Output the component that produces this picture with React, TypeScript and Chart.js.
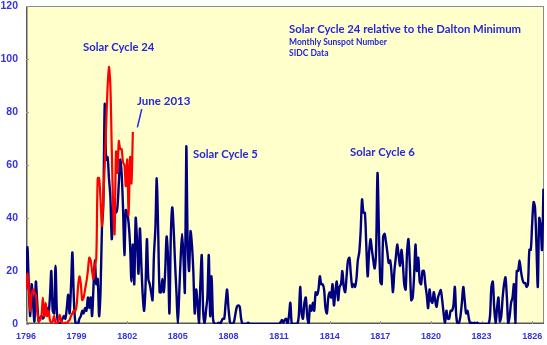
import React, { useEffect, useRef } from 'react';
import { Chart, registerables } from 'chart.js';

Chart.register(...registerables);

const START_YEAR = 1796;
const X_MIN = 1796;
const X_MAX = 1826.7;
const X_TICKS = [1796, 1799, 1802, 1805, 1808, 1811, 1814, 1817, 1820, 1823, 1826];
const Y_TICKS = [0, 20, 40, 60, 80, 100, 120];

// Dalton Minimum monthly sunspot number, Jan 1796 onwards (one row per year)
const DALTON_MONTHLY = [
  13, 29, 14, 3, 15, 8, 1, 16, 8, 1, 2, 3,
  2, 3, 5, 6, 4, 10, 20, 5, 4, 22, 4, 0,
  0, 1, 2, 3, 2, 6, 11, 4, 14, 27, 10, 1,
  0, 0, 2, 3, 5, 4, 6, 5, 10, 6, 10, 3,
  14, 24, 15, 17, 3, 12, 36, 45, 83, 62, 63, 55,
  48, 32, 44, 43, 42, 44, 53, 62, 57, 44, 26, 43,
  42, 38, 30, 16, 30, 15, 40, 31, 19, 36, 23, 11,
  5, 14, 32, 17, 15, 12, 9, 26, 36, 55, 35, 12,
  12, 17, 12, 20, 33, 25, 4, 33, 44, 36, 23, 12,
  0, 12, 25, 34, 25, 12, 67, 30, 20, 35, 30, 20,
  4, 13, 8, 0, 15, 26, 5, 0, 5, 10, 26, 3,
  18, 2, 0, 0, 0, 0.5, 0, 1, 2, 2, 8, 13,
  6, 1, 0, 0, 1, 4, 6.5, 7, 6.5, 2, 0, 0,
  0, 0, 0.5, 0, 0, 0, 0, 0, 0, 0, 0, 0,
  0, 0, 0, 0, 0, 0, 0, 0, 0, 0, 0, 0,
  0, 0.5, 1.5, 0.5, 1.5, 2, 0, 3, 8, 0, 0, 0,
  0, 0, 3, 14, 4, 2, 8, 10, 3, 0, 7, 5,
  8, 5, 12, 11, 13, 18, 15, 15, 13, 6, 4, 10,
  12, 10, 15, 7, 12, 16, 9, 14, 15, 20, 14, 12,
  18, 24, 25, 19, 14, 15, 14, 17, 24, 27, 35, 47,
  42, 42, 30, 18, 27, 32, 28, 24, 21, 28, 57, 35,
  16, 15, 33, 34, 31, 27, 23, 24, 19, 12, 20, 25,
  30, 26, 22, 28, 23, 15, 13, 27, 32, 22, 9, 10,
  18, 30, 20, 25, 16, 15, 20, 20, 15, 11, 6, 13,
  9, 8, 12, 9, 6.5, 10, 11.6, 12.8, 9, 4, 0.5, 5,
  2, 2, 5, 5, 7, 14, 3, 0, 0.5, 3, 8, 14,
  9, 4, 5, 2, 0, 0.5, 0, 0.5, 0, 0.5, 0, 0,
  0, 0, 0, 0, 0, 0, 3, 14, 16, 6, 0, 6,
  10, 1, 3, 10, 15, 17.6, 10, 0, 3, 8, 10, 15,
  0, 20, 20, 24, 20, 17, 15.5, 15.5, 14, 15, 28, 28,
  38, 46, 44, 30, 14, 40, 37, 28, 51,
];

// Solar Cycle 24 monthly sunspot number, aligned to start at 1796, ending June 2013
const CYCLE24_MONTHLY = [
  13, 19, 14, 5, 11, 13, 12, 11, 5, 1, 1.5, 3,
  10, 3, 8, 3, 5, 1.5, 0.5, 1, 3, 0.5, 0.3, 1,
  3.5, 1, 0.5, 0, 0.5, 0.3, 1, 1.5, 3, 4, 5, 4.7,
  7, 14, 18, 15, 9, 10, 13, 16, 20, 25, 24, 20,
  17, 22, 25, 55, 55, 47, 37, 48, 60, 75, 89, 97,
  90, 66, 44, 34, 65, 57, 69, 66, 66, 61, 60, 52,
  62, 41, 63, 53, 72.5,
];

const TEXT_BLUE = '#2626dc';
const TICK_BLUE = '#3434e0';
const FONT = 'Lato, "Open Sans", sans-serif';

const toPoints = (arr: number[]) => arr.map((v, i) => ({ x: START_YEAR + i / 12, y: v }));

const decorPlugin = {
  id: 'decor',
  beforeDraw(chart: any) {
    const { ctx, chartArea } = chart;
    const { left, top, right, bottom } = chartArea;
    ctx.save();
    ctx.fillStyle = '#FFFFCC';
    ctx.fillRect(left, top, right - left, bottom - top);
    ctx.restore();
  },
  beforeDatasetsDraw(chart: any) {
    const { ctx, chartArea, scales } = chart;
    const { left, top, right, bottom } = chartArea;
    ctx.save();
    ctx.strokeStyle = '#8c8c8c';
    ctx.lineWidth = 1;
    ctx.strokeRect(left + 0.5, top + 0.5, right - left - 1, bottom - top - 1);
    ctx.strokeStyle = '#5a5a5a';
    ctx.lineWidth = 1.5;
    ctx.beginPath();
    ctx.moveTo(left + 0.75, top);
    ctx.lineTo(left + 0.75, bottom - 0.75);
    ctx.lineTo(right, bottom - 0.75);
    ctx.stroke();
    ctx.strokeStyle = '#9a9a9a';
    ctx.lineWidth = 1;
    ctx.beginPath();
    for (const t of X_TICKS) {
      const px = Math.round(scales.x.getPixelForValue(t)) + 0.5;
      ctx.moveTo(px, bottom);
      ctx.lineTo(px, bottom - 3);
    }
    for (const t of Y_TICKS) {
      const py = Math.round(scales.y.getPixelForValue(t)) + 0.5;
      ctx.moveTo(left, py);
      ctx.lineTo(left + 3, py);
    }
    ctx.stroke();
    ctx.restore();
  },
  afterDatasetsDraw(chart: any) {
    const { ctx, scales } = chart;
    const X = (v: number) => scales.x.getPixelForValue(v);
    const Y = (v: number) => scales.y.getPixelForValue(v);
    ctx.save();
    ctx.fillStyle = TEXT_BLUE;
    ctx.textAlign = 'left';
    ctx.textBaseline = 'middle';
    const label = (text: string, year: number, val: number, size: number) => {
      ctx.font = `bold ${size}px ${FONT}`;
      ctx.fillText(text, X(year), Y(val));
    };
    label('Solar Cycle 24', 1799.38, 104.5, 11.3);
    label('June 2013', 1802.58, 84.2, 11.5);
    label('Solar Cycle 5', 1805.9, 64.2, 11.3);
    label('Solar Cycle 6', 1815.2, 64.9, 11.3);
    label('Solar Cycle 24 relative to the Dalton Minimum', 1811.59, 111.1, 11.3);
    label('Monthly Sunspot Number', 1811.59, 106.3, 8.5);
    label('SIDC Data', 1811.59, 102.2, 8.5);
    ctx.strokeStyle = TEXT_BLUE;
    ctx.lineWidth = 1.5;
    ctx.beginPath();
    ctx.moveTo(X(1802.6), Y(74.2));
    ctx.lineTo(X(1802.86), Y(81.1));
    ctx.stroke();
    ctx.restore();
  },
};

export default function App() {
  const canvasRef = useRef<HTMLCanvasElement | null>(null);

  useEffect(() => {
    document.body.style.margin = '0';
    const canvas = canvasRef.current;
    if (!canvas) return;
    const chart = new Chart(canvas, {
      type: 'line',
      data: {
        datasets: [
          {
            label: 'Dalton Minimum',
            data: toPoints(DALTON_MONTHLY),
            borderColor: '#00007f',
            borderWidth: 2.4,
            pointRadius: 0,
            tension: 0.3,
            fill: false,
            order: 2,
          },
          {
            label: 'Solar Cycle 24',
            data: toPoints(CYCLE24_MONTHLY),
            borderColor: '#ff0000',
            borderWidth: 2.2,
            pointRadius: 0,
            tension: 0.3,
            fill: false,
            order: 1,
          },
        ],
      },
      options: {
        animation: false,
        responsive: false,
        maintainAspectRatio: false,
        devicePixelRatio: 1,
        layout: { padding: { top: 6, right: 3, left: 0, bottom: 0 } },
        plugins: {
          legend: { display: false },
          tooltip: { enabled: false },
          title: { display: false },
        },
        scales: {
          x: {
            type: 'linear',
            min: X_MIN,
            max: X_MAX,
            afterBuildTicks: (s: any) => {
              s.ticks = X_TICKS.map((v) => ({ value: v }));
            },
            afterFit: (s: any) => {
              s.height = 21;
              s.paddingLeft = 0;
              s.paddingRight = 0;
            },
            grid: { display: false, drawTicks: false },
            border: { display: false },
            ticks: {
              autoSkip: false,
              maxRotation: 0,
              padding: 7,
              color: TICK_BLUE,
              font: { family: '"Liberation Sans", Arial, sans-serif', size: 9, weight: 'bold' },
              callback: (v: any) => String(v),
            },
          },
          y: {
            min: 0,
            max: 120,
            afterBuildTicks: (s: any) => {
              s.ticks = Y_TICKS.map((v) => ({ value: v }));
            },
            afterFit: (s: any) => {
              s.width = 26;
              s.paddingTop = 0;
              s.paddingBottom = 0;
            },
            grid: { display: false, drawTicks: false },
            border: { display: false },
            ticks: {
              padding: 8,
              color: TICK_BLUE,
              font: { family: '"Liberation Sans", Arial, sans-serif', size: 10.5, weight: 'bold' },
              callback: (v: any) => String(v),
            },
          },
        },
      },
      plugins: [decorPlugin],
    });
    return () => chart.destroy();
  }, []);

  return (
    <div style={{ width: 547, height: 345 }}>
      <canvas ref={canvasRef} width={547} height={345} style={{ display: 'block' }} />
    </div>
  );
}
